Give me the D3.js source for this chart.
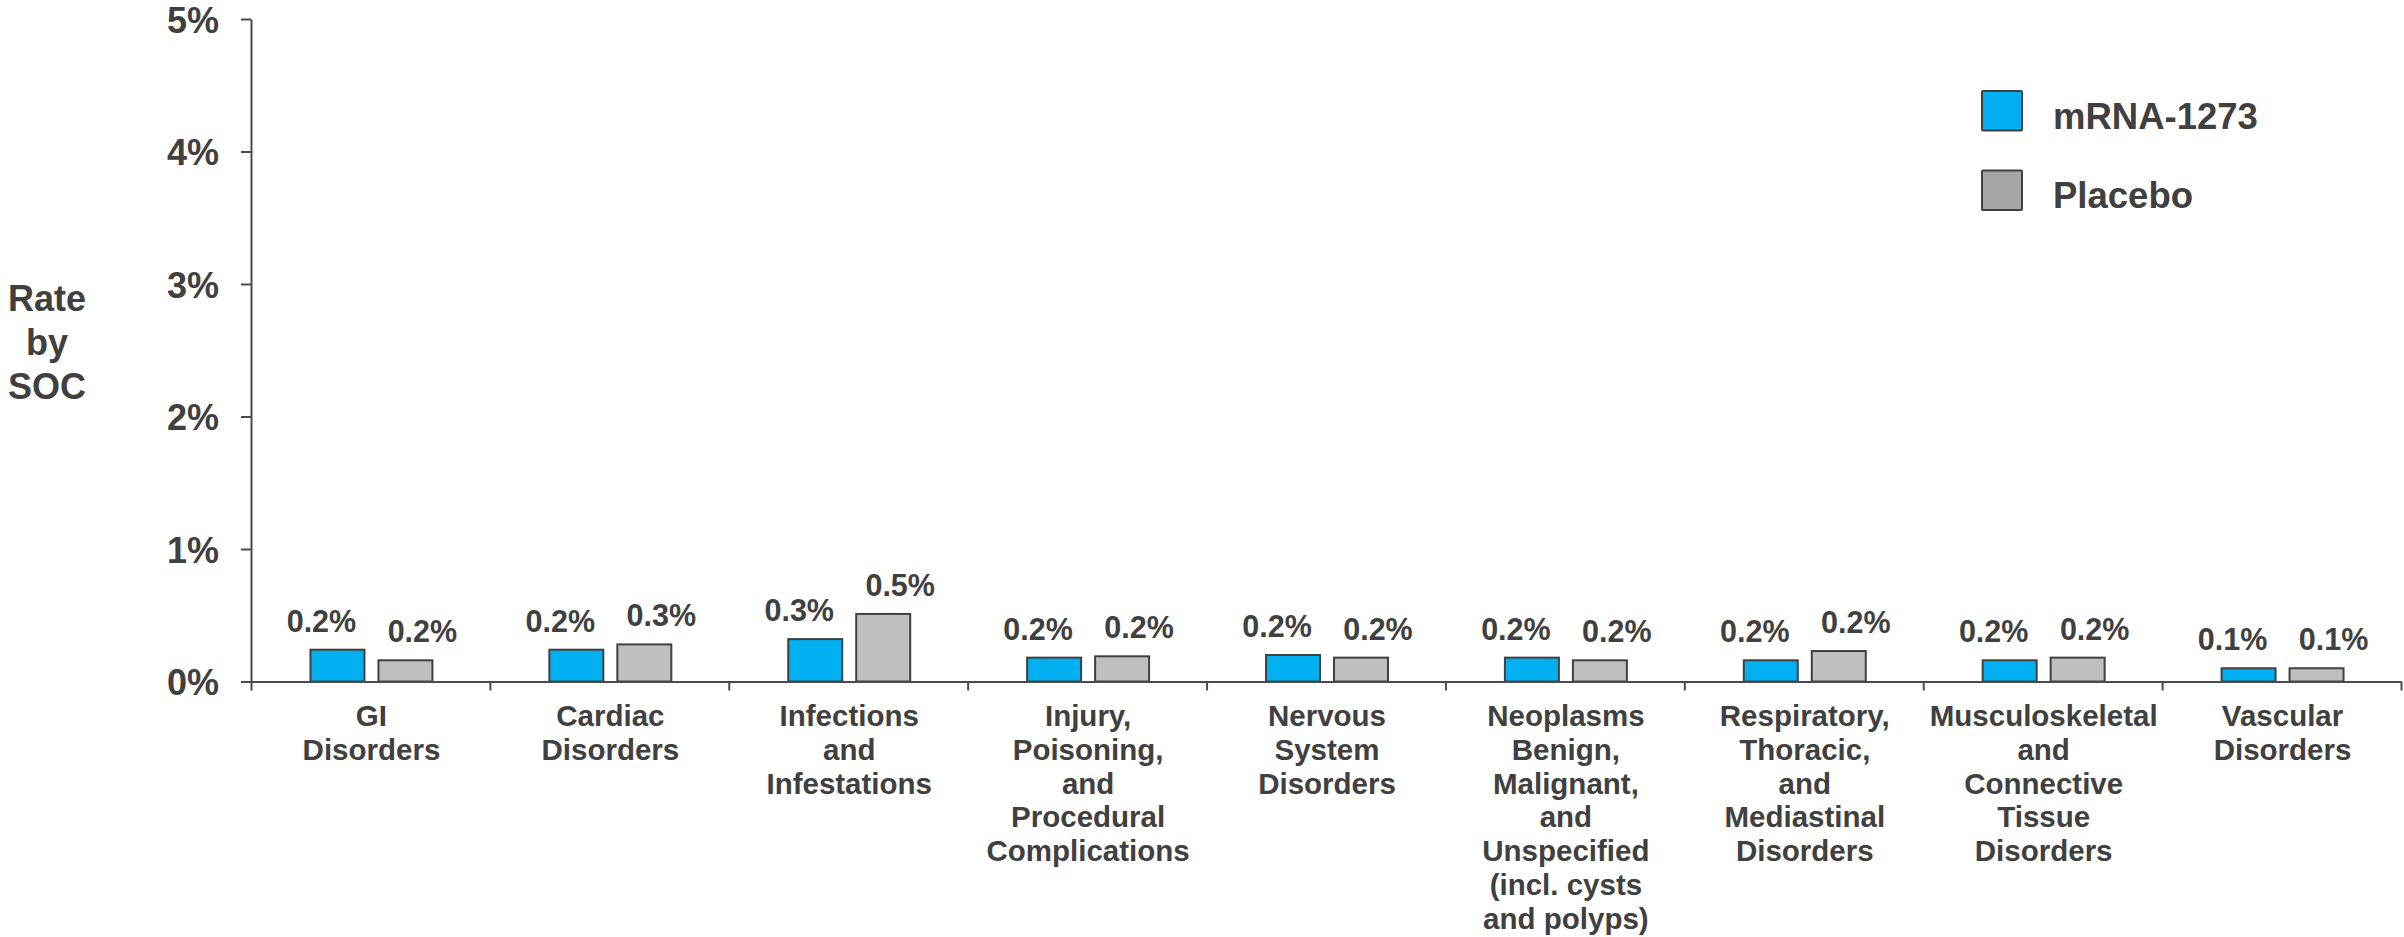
<!DOCTYPE html>
<html>
<head>
<meta charset="utf-8">
<script src="https://cdn.jsdelivr.net/npm/d3@7"></script>
<style>
  html, body { margin: 0; padding: 0; background: #ffffff; }
  svg { display: block; }
  text { font-family: "Liberation Sans", Arial, Helvetica, sans-serif; font-weight: bold; fill: #404040; }
</style>
</head>
<body>
<svg id="chart" width="2404" height="937"></svg>
<script>
// System organ classes (category labels split into lines)
const categories = [
  ["GI", "Disorders"],
  ["Cardiac", "Disorders"],
  ["Infections", "and", "Infestations"],
  ["Injury,", "Poisoning,", "and", "Procedural", "Complications"],
  ["Nervous", "System", "Disorders"],
  ["Neoplasms", "Benign,", "Malignant,", "and", "Unspecified", "(incl. cysts", "and polyps)"],
  ["Respiratory,", "Thoracic,", "and", "Mediastinal", "Disorders"],
  ["Musculoskeletal", "and", "Connective", "Tissue", "Disorders"],
  ["Vascular", "Disorders"]
];

// Rates by SOC, in percent
const seriesNames = ["mRNA-1273", "Placebo"];
const mrnaValues    = [0.24, 0.24, 0.32, 0.18, 0.20, 0.18, 0.16, 0.16, 0.10];
const placeboValues = [0.16, 0.28, 0.51, 0.19, 0.18, 0.16, 0.23, 0.18, 0.10];

const yTicks = [0, 1, 2, 3, 4, 5];
const yTitle = ["Rate", "by", "SOC"];

const barColors = ["#00B0F0", "#BFBFBF"];
const legendColors = ["#00B0F0", "#A6A6A6"];
const ink = "#404040";
const axisInk = "#4a4a4a";

const svg = d3.select("#chart");

const catIndex = categories.map((_, i) => i);
const x = d3.scaleBand().domain(catIndex).range([251, 2401]).padding(0);
const xEdge = d3.scaleLinear().domain([0, categories.length]).range([251, 2401]);
const xInner = d3.scaleBand().domain(seriesNames).range([0, x.bandwidth()])
  .paddingInner(0.206).paddingOuter(0.86);
const y = d3.scaleLinear().domain([0, 5]).range([681.5, 19]);

const rows = categories.map((c, i) => ({
  i,
  values: [
    { name: seriesNames[0], v: mrnaValues[i], s: 0 },
    { name: seriesNames[1], v: placeboValues[i], s: 1 }
  ]
}));

// Bars
const groups = svg.append("g").selectAll("g.cat")
  .data(rows).join("g")
  .attr("class", "cat")
  .attr("transform", d => `translate(${x(d.i) + 1},0)`);

groups.selectAll("rect")
  .data(d => d.values).join("rect")
  .attr("x", d => xInner(d.name))
  .attr("y", d => y(d.v))
  .attr("width", xInner.bandwidth())
  .attr("height", d => y(0) - y(d.v))
  .attr("fill", d => barColors[d.s])
  .attr("stroke", ink)
  .attr("stroke-width", 2);

// Value labels, nudged outward from each bar's centre
const fmt = d3.format(".1f");
groups.selectAll("text.val")
  .data(d => d.values).join("text")
  .attr("class", "val")
  .attr("x", d => xInner(d.name) + xInner.bandwidth() / 2 + (d.s === 0 ? -16 : 17))
  .attr("y", d => y(d.v) - 18)
  .attr("text-anchor", "middle")
  .style("font-size", "30.5px")
  .text(d => fmt(d.v) + "%");

// Y axis
const yAxis = d3.axisLeft(y)
  .tickValues(yTicks)
  .tickSize(10)
  .tickSizeOuter(0)
  .tickPadding(22)
  .tickFormat(d => d + "%");
const gy = svg.append("g").attr("transform", "translate(251,0)").call(yAxis);
gy.select(".domain").attr("stroke", axisInk).attr("stroke-width", 2);
gy.selectAll(".tick line").attr("stroke", axisInk).attr("stroke-width", 2);
gy.selectAll(".tick text")
  .attr("fill", ink)
  .attr("dy", "0.37em")
  .style("font-size", "36px")
  .style("font-family", "'Liberation Sans', Arial, sans-serif")
  .style("font-weight", "bold");

// X axis with ticks on category boundaries
const xAxis = d3.axisBottom(xEdge)
  .tickValues(d3.range(categories.length + 1))
  .tickSize(9)
  .tickSizeOuter(0)
  .tickFormat("");
const gx = svg.append("g").attr("transform", `translate(0,${y(0)})`).call(xAxis);
gx.select(".domain").attr("stroke", axisInk).attr("stroke-width", 2);
gx.selectAll(".tick line").attr("stroke", axisInk).attr("stroke-width", 2);

// Category labels
const lineH = 33.8;
svg.append("g").selectAll("text.cat")
  .data(rows).join("text")
  .attr("class", "cat")
  .attr("text-anchor", "middle")
  .attr("transform", d => `translate(${x(d.i) + x.bandwidth() / 2 + 1},${y(0) + 44.5})`)
  .style("font-size", "29.5px")
  .selectAll("tspan")
  .data(d => categories[d.i]).join("tspan")
  .attr("x", 0)
  .attr("dy", (d, j) => j === 0 ? 0 : lineH)
  .text(d => d);

// Y axis title
svg.append("text")
  .attr("text-anchor", "middle")
  .attr("transform", "translate(47,310.5)")
  .style("font-size", "36px")
  .selectAll("tspan")
  .data(yTitle).join("tspan")
  .attr("x", 0)
  .attr("dy", (d, j) => j === 0 ? 0 : 44)
  .text(d => d);

// Legend
const legend = svg.append("g").attr("transform", "translate(1982,91)");
const li = legend.selectAll("g").data(seriesNames).join("g")
  .attr("transform", (d, i) => `translate(0,${i * 79.5})`);
li.append("rect")
  .attr("width", 40).attr("height", 39.5)
  .attr("rx", 1)
  .attr("fill", (d, i) => legendColors[i])
  .attr("stroke", ink)
  .attr("stroke-width", 2);
li.append("text")
  .attr("x", 71)
  .attr("y", 37.5)
  .style("font-size", "36.5px")
  .text(d => d);
</script>
</body>
</html>
